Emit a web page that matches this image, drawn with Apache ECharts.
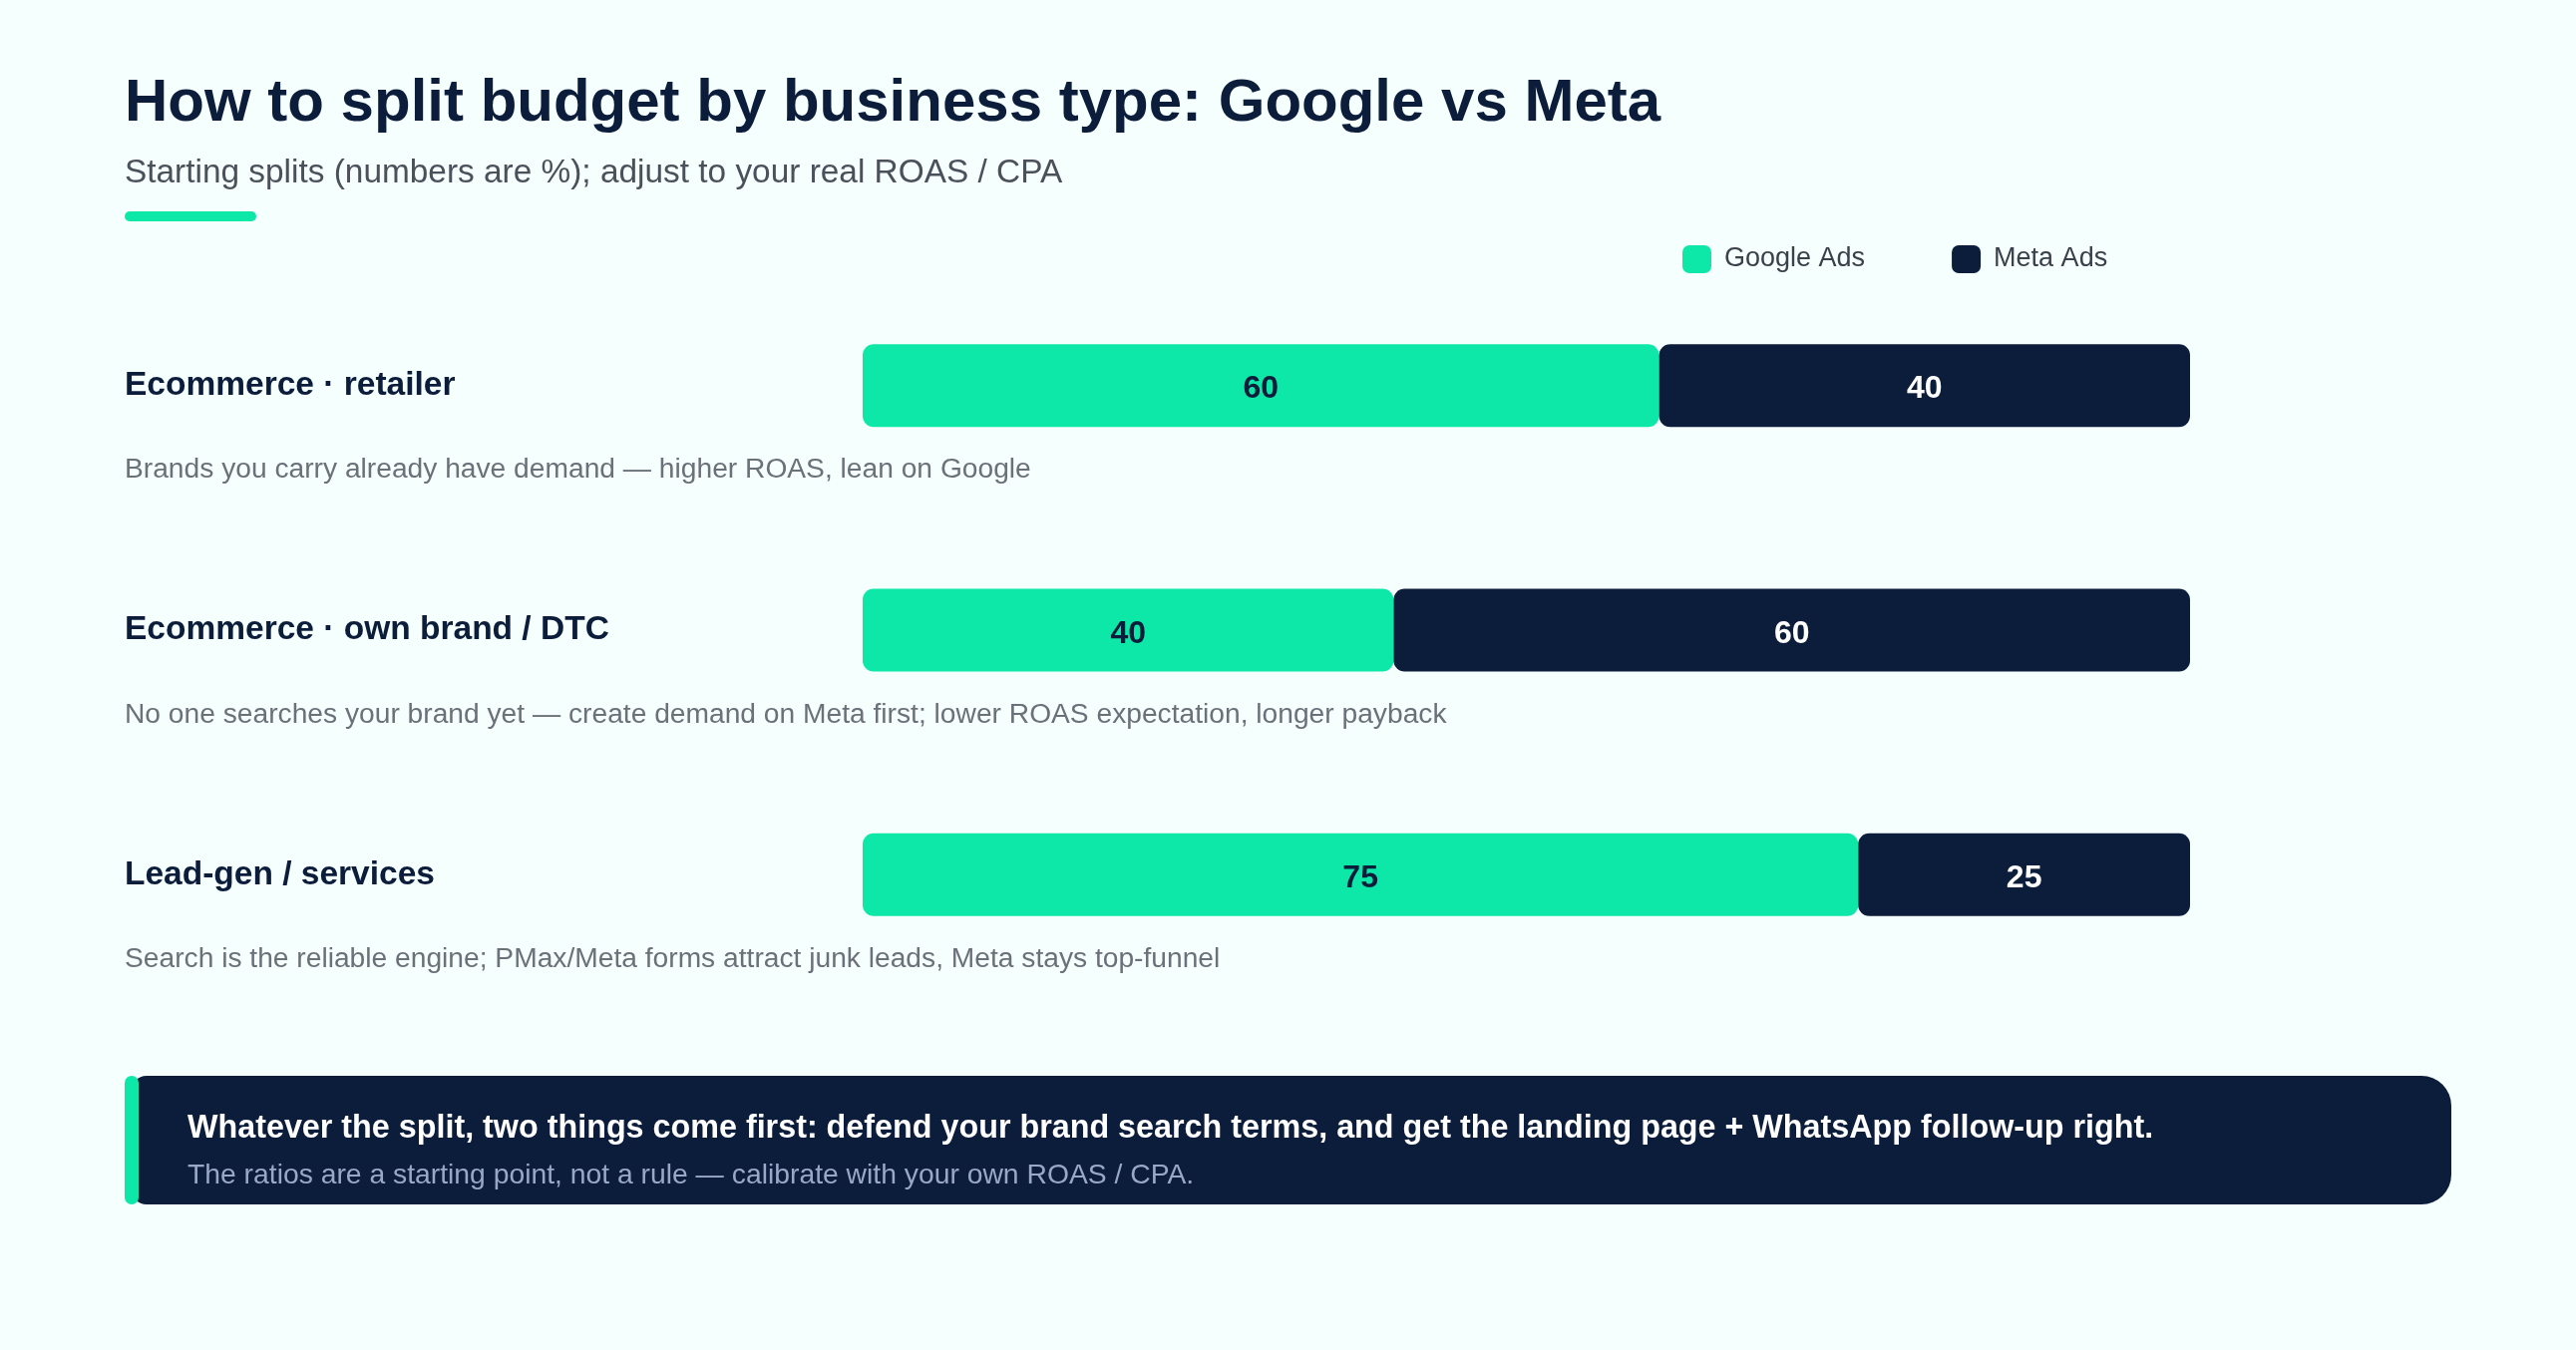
<!DOCTYPE html>
<html>
<head>
<meta charset="utf-8">
<script src="https://cdn.jsdelivr.net/npm/echarts@6/dist/echarts.min.js"></script>
<style>
  html, body { margin: 0; padding: 0; background: #f5fffd; }
  #chart { width: 2583px; height: 1354px; }
</style>
</head>
<body>
<div id="chart"></div>
<script>
// data
const categories = ['Ecommerce · retailer', 'Ecommerce · own brand / DTC', 'Lead-gen / services']
const descriptions = [
  'Brands you carry already have demand — higher ROAS, lean on Google',
  'No one searches your brand yet — create demand on Meta first; lower ROAS expectation, longer payback',
  'Search is the reliable engine; PMax/Meta forms attract junk leads, Meta stays top-funnel'
]
const googleShare = [60, 40, 75]
const metaShare = [40, 60, 25]
const seriesNames = ['Google Ads', 'Meta Ads']

const titleText = 'How to split budget by business type: Google vs Meta'
const subtitleText = 'Starting splits (numbers are %); adjust to your real ROAS / CPA'
const noteTitle = 'Whatever the split, two things come first: defend your brand search terms, and get the landing page + WhatsApp follow-up right.'
const noteSub = 'The ratios are a starting point, not a rule — calibrate with your own ROAS / CPA.'

const FONT = '"Liberation Sans", Arial, sans-serif'
const NAVY = '#0c1c3b'
const GREEN = '#0de8a8'

const chart = echarts.init(document.getElementById('chart'), null, { renderer: 'canvas' })

const option = {
  backgroundColor: '#f5fffd',
  textStyle: { fontFamily: FONT },
  animation: false,
  legend: {
    data: seriesNames,
    left: 1687,
    top: 246,
    itemWidth: 29,
    itemHeight: 28,
    itemGap: 87,
    icon: 'roundRect',
    padding: 0,
    textStyle: { fontSize: 27, color: '#3b404b', fontFamily: FONT, padding: [0, 0, 0, 8] }
  },
  grid: { left: 865, width: 1331, top: 264, height: 736 },
  xAxis: { type: 'value', min: 0, max: 100, show: false },
  yAxis: {
    type: 'category',
    data: categories,
    inverse: true,
    axisLine: { show: false },
    axisTick: { show: false },
    splitLine: { show: false },
    axisLabel: {
      interval: 0,
      align: 'left',
      margin: 740,
      // spacer line above the title keeps the title level with the bar,
      // the description sits one line below
      formatter: (v, i) => '{s| }\n{t|' + v + '}\n{d|' + descriptions[i] + '}',
      rich: {
        s: { fontSize: 10, lineHeight: 40 },
        t: { fontSize: 33.5, lineHeight: 130, fontWeight: 'bold', color: NAVY, fontFamily: FONT },
        d: { fontSize: 28.2, lineHeight: 40, color: '#6b7079', fontFamily: FONT }
      }
    }
  },
  series: [
    {
      name: seriesNames[0],
      type: 'bar',
      stack: 'split',
      barWidth: 83,
      data: googleShare,
      itemStyle: { color: GREEN, borderRadius: 11 },
      label: { show: true, position: 'inside', offset: [0, 4], fontSize: 32, fontWeight: 'bold', color: NAVY, fontFamily: FONT }
    },
    {
      name: seriesNames[1],
      type: 'bar',
      stack: 'split',
      barWidth: 83,
      data: metaShare,
      itemStyle: { color: NAVY, borderRadius: 11 },
      label: { show: true, position: 'inside', offset: [0, 4], fontSize: 32, fontWeight: 'bold', color: '#ffffff', fontFamily: FONT }
    }
  ],
  graphic: [
    { type: 'text', x: 125, y: 104, style: { text: titleText, font: 'bold 60px ' + FONT, fill: NAVY, verticalAlign: 'middle' } },
    { type: 'text', x: 125, y: 174, style: { text: subtitleText, font: '33.4px ' + FONT, fill: '#4b505a', verticalAlign: 'middle' } },
    { type: 'rect', x: 125, y: 212, shape: { width: 132, height: 10, r: 5 }, style: { fill: GREEN } },
    { type: 'rect', x: 131, y: 1079, shape: { width: 2327, height: 129, r: [16, 30, 30, 16] }, style: { fill: NAVY } },
    { type: 'rect', x: 125, y: 1079, shape: { width: 14, height: 129, r: 7 }, style: { fill: GREEN } },
    { type: 'text', x: 188, y: 1132, style: { text: noteTitle, font: 'bold 32.3px ' + FONT, fill: '#ffffff', verticalAlign: 'middle' } },
    { type: 'text', x: 188, y: 1179, style: { text: noteSub, font: '28.3px ' + FONT, fill: '#9aa8c8', verticalAlign: 'middle' } }
  ]
}

chart.setOption(option)
</script>
</body>
</html>
